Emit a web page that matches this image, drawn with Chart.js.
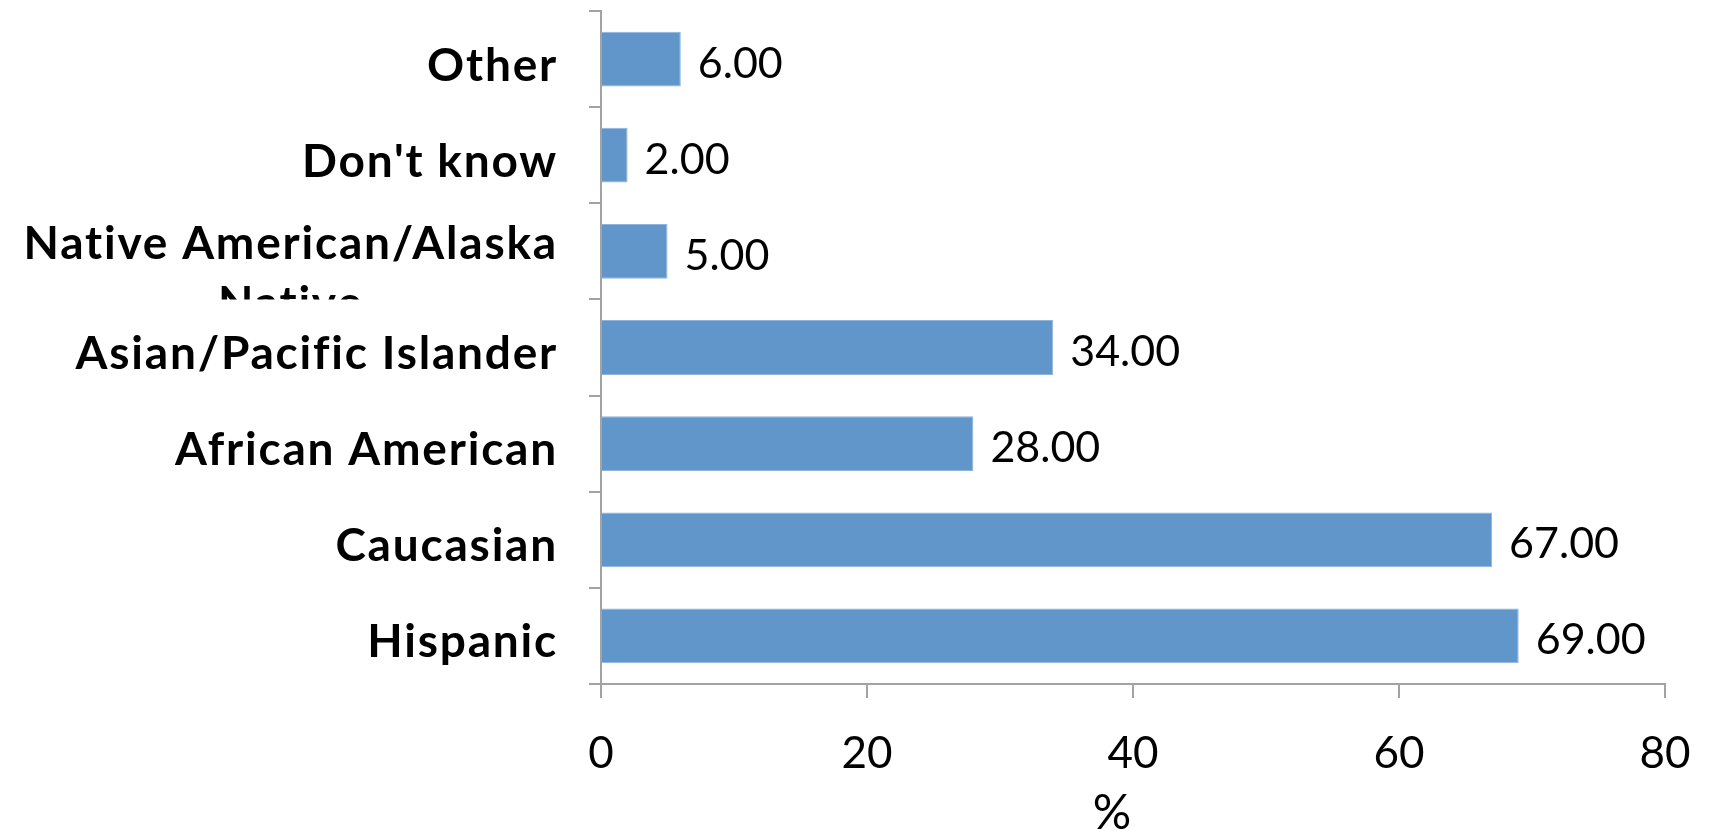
<!DOCTYPE html>
<html>
<head>
<meta charset="utf-8">
<script src="https://cdn.jsdelivr.net/npm/chart.js@4.4.1/dist/chart.umd.min.js"></script>
<style>
  html, body { margin: 0; padding: 0; background: #ffffff; }
  #wrap { width: 1710px; height: 833px; position: relative; }
</style>
</head>
<body>
<div id="wrap"><canvas id="c"></canvas></div>
<script>
// Data (bottom to top, as in the source sheet)
const categories = ['Hispanic', 'Caucasian', 'African American', 'Asian/Pacific Islander',
                    ['Native American/Alaska', 'Native'], "Don't know", 'Other'];
const percentValues = [69, 67, 28, 34, 5, 2, 6];
const xTickValues = [0, 20, 40, 60, 80];
const xAxisTitle = '%';

const BAR_COLOR = '#6096c9';
const AXIS_COLOR = '#a3a3a3';
const LABEL_FONT = 'Lato, "Open Sans", sans-serif';

// Draw category labels (clipped to their band, like the source), value labels and axis title
const labelPlugin = {
  id: 'labelPlugin',
  afterDatasetsDraw(chart) {
    const ctx = chart.ctx;
    const yScale = chart.scales.y;
    const xScale = chart.scales.x;
    const meta = chart.getDatasetMeta(0);
    const band = Math.abs(yScale.getPixelForValue(1) - yScale.getPixelForValue(0));
    const labelRight = yScale.right - 43;
    const fs = 46;
    ctx.save();
    ctx.fillStyle = '#000000';
    ctx.textAlign = 'right';
    ctx.textBaseline = 'alphabetic';
    ctx.font = 'bold ' + fs + 'px ' + LABEL_FONT;
    if ('letterSpacing' in ctx) ctx.letterSpacing = '1.8px';
    const capHalf = fs * 0.36;
    categories.forEach((lab, i) => {
      const yc = yScale.getPixelForValue(i);
      ctx.save();
      ctx.beginPath();
      ctx.rect(0, yc - band / 2, labelRight + 20, band);
      ctx.clip();
      if (Array.isArray(lab)) {
        ctx.textAlign = 'right';
        ctx.fillText(lab[0], labelRight, yc - 9 + capHalf);
        const w0 = ctx.measureText(lab[0]).width;
        ctx.textAlign = 'center';
        ctx.fillText(lab[1], labelRight - w0 / 2, yc + 51 + capHalf);
      } else {
        ctx.fillText(lab, labelRight, yc + 5 + capHalf);
      }
      ctx.restore();
    });
    // value labels
    if ('letterSpacing' in ctx) ctx.letterSpacing = '0px';
    ctx.font = '43px ' + LABEL_FONT;
    ctx.textAlign = 'left';
    meta.data.forEach((bar, i) => {
      const v = percentValues[i];
      ctx.fillText(v.toFixed(2), bar.x + 17, bar.y + 3 + 43 * 0.36);
    });
    // axis title
    ctx.font = '48px ' + LABEL_FONT;
    ctx.textAlign = 'center';
    ctx.fillText(xAxisTitle, (xScale.left + xScale.right) / 2 - 21, 812 + 48 * 0.36);
    ctx.restore();
  }
};

new Chart(document.getElementById('c'), {
  type: 'bar',
  data: {
    labels: categories,
    datasets: [{
      data: percentValues,
      backgroundColor: BAR_COLOR,
      borderColor: '#8fb4dc',
      borderWidth: 1,
      barPercentage: 0.57,
      categoryPercentage: 1.0
    }]
  },
  options: {
    indexAxis: 'y',
    responsive: true,
    maintainAspectRatio: false,
    animation: false,
    layout: { padding: { top: 11, right: 45, left: 0, bottom: 0 } },
    plugins: { legend: { display: false }, tooltip: { enabled: false } },
    scales: {
      x: {
        type: 'linear',
        min: 0,
        max: 80,
        afterBuildTicks(scale) { scale.ticks = xTickValues.map(v => ({ value: v })); },
        grid: { display: true, drawOnChartArea: false, drawTicks: true, tickLength: 14, color: AXIS_COLOR, lineWidth: 2 },
        border: { display: true, color: AXIS_COLOR, width: 2 },
        ticks: { color: '#000000', font: { family: LABEL_FONT, size: 44 }, padding: 29, maxRotation: 0 },
        title: { display: false },
        afterFit(scale) { scale.height = 149; scale.paddingLeft = 0; scale.paddingRight = 0; }
      },
      y: {
        type: 'category',
        reverse: true,
        offset: true,
        grid: { display: true, offset: true, drawOnChartArea: false, drawTicks: true, tickLength: 12, color: AXIS_COLOR, lineWidth: 2 },
        border: { display: true, color: AXIS_COLOR, width: 2 },
        ticks: { display: false },
        afterFit(scale) { scale.width = 601; }
      }
    }
  },
  plugins: [labelPlugin]
});
</script>
</body>
</html>
